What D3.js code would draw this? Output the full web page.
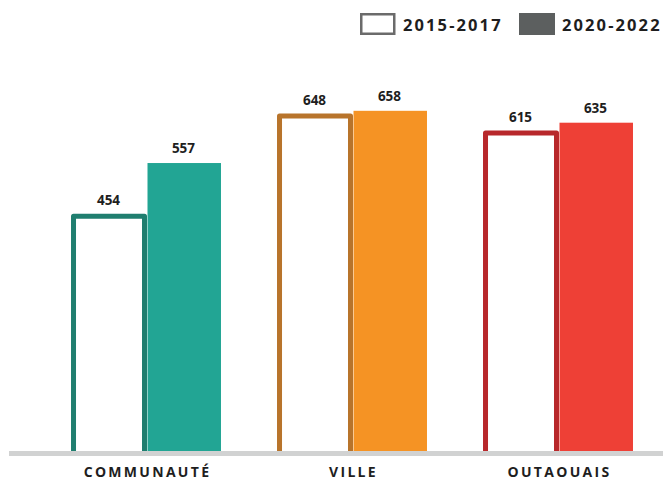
<!DOCTYPE html>
<html>
<head>
<meta charset="utf-8">
<script src="https://cdn.jsdelivr.net/npm/d3@7"></script>
<style>
  html, body { margin: 0; padding: 0; background: #fff; }
  svg { display: block; }
  text { font-family: "Open Sans", "DejaVu Sans", sans-serif; font-weight: 700; fill: #1e1e1e; }
</style>
</head>
<body>
<svg id="chart" width="663" height="481"></svg>
<script>
// Regions compared
const categories = ["COMMUNAUTÉ", "VILLE", "OUTAOUAIS"];
// Periods shown in the legend
const periods = ["2015-2017", "2020-2022"];
// Values per period, in the same order as categories
const values2015 = [454, 648, 615];
const values2020 = [557, 658, 635];

// Colours per region: outline for the first period, fill for the second
const outlineColors = ["#1f7e6f", "#b8742b", "#b8282b"];
const fillColors = ["#22a594", "#f59324", "#ee4036"];

const svg = d3.select("#chart");
const W = 663, H = 481;
const baseY = 451;

const x = d3.scaleBand()
  .domain(categories)
  .range([43, 661])
  .paddingInner(0.272)
  .paddingOuter(0.136);

const xs = d3.scaleBand()
  .domain(periods)
  .range([0, x.bandwidth()]);

const y = d3.scaleLinear()
  .domain([0, 700])
  .range([baseY, baseY - 700 * 0.517]);

const rows = categories.map((c, i) => ({
  cat: c, i,
  v1: values2015[i], v2: values2020[i]
}));

const sw = 5;
const g = svg.append("g");

// Filled bars (second period)
g.selectAll("rect.fill")
  .data(rows)
  .join("rect")
  .attr("class", "fill")
  .attr("x", d => x(d.cat) + xs(periods[1]) + 1.5)
  .attr("width", xs.bandwidth() - 1.5)
  .attr("y", d => y(d.v2))
  .attr("height", d => baseY - y(d.v2))
  .attr("fill", d => fillColors[d.i]);

// Outlined bars (first period)
g.selectAll("path.outline")
  .data(rows)
  .join("path")
  .attr("class", "outline")
  .attr("d", d => {
    const x0 = x(d.cat) + xs(periods[0]) + sw / 2;
    const x1 = x(d.cat) + xs(periods[0]) + xs.bandwidth() + 1 - sw / 2;
    const yt = y(d.v1);
    return `M${x0},${baseY + 4}V${yt}H${x1}V${baseY + 4}`;
  })
  .attr("fill", "#fff")
  .attr("stroke", d => outlineColors[d.i])
  .attr("stroke-width", sw)
  .attr("stroke-linejoin", "round");

// Baseline
svg.append("line")
  .attr("x1", 9).attr("x2", W)
  .attr("y1", baseY + 2.5).attr("y2", baseY + 2.5)
  .attr("stroke", "#d1d2d2")
  .attr("stroke-width", 5);

// Value labels
const labelSize = 13.5;
g.selectAll("text.v1")
  .data(rows)
  .join("text")
  .attr("class", "v1")
  .attr("x", d => x(d.cat) + xs(periods[0]) + xs.bandwidth() / 2)
  .attr("y", d => y(d.v1) - 11)
  .attr("text-anchor", "middle")
  .attr("font-size", labelSize)
  .text(d => d.v1);

g.selectAll("text.v2")
  .data(rows)
  .join("text")
  .attr("class", "v2")
  .attr("x", d => x(d.cat) + xs(periods[1]) + xs.bandwidth() / 2)
  .attr("y", d => y(d.v2) - 10)
  .attr("text-anchor", "middle")
  .attr("font-size", labelSize)
  .text(d => d.v2);

// Category axis labels
svg.append("g")
  .attr("transform", `translate(0,${baseY})`)
  .call(d3.axisBottom(x).tickSize(0).tickPadding(0))
  .call(a => a.select(".domain").remove())
  .selectAll("text")
  .attr("y", 0)
  .attr("dy", null)
  .attr("transform", "translate(1.5,25.5)")
  .attr("font-size", 14)
  .attr("letter-spacing", "2.3px")
  .attr("font-family", null)
  .style("font-family", "'Open Sans', sans-serif")
  .style("font-weight", 700)
  .attr("fill", "#111");

// Legend
const legend = svg.append("g");
const legendItems = [
  { label: periods[0], x: 360, fillC: "#fff", strokeC: "#6b6b6b" },
  { label: periods[1], x: 519, fillC: "#5c5f5f", strokeC: null }
];
legendItems.forEach(it => {
  if (it.strokeC) {
    legend.append("rect")
      .attr("x", it.x + 1.25).attr("y", 14.25)
      .attr("width", 33).attr("height", 19.5)
      .attr("fill", it.fillC)
      .attr("stroke", it.strokeC)
      .attr("stroke-width", 2.5);
  } else {
    legend.append("rect")
      .attr("x", it.x).attr("y", 13)
      .attr("width", 36).attr("height", 22)
      .attr("fill", it.fillC);
  }
  legend.append("text")
    .attr("x", it.x + 43)
    .attr("y", 30.5)
    .attr("font-size", 16.5)
    .attr("letter-spacing", "2.1px")
    .text(it.label);
});
</script>
</body>
</html>
